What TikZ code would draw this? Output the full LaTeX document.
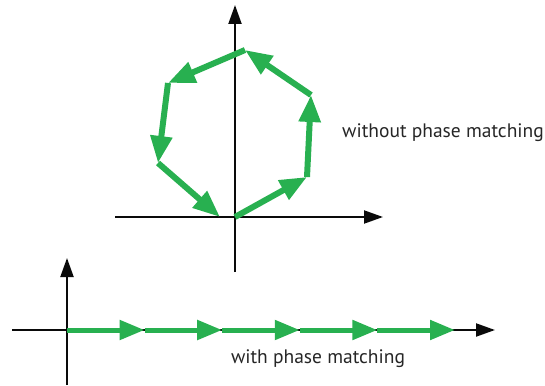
\documentclass[tikz,border=0pt]{standalone}
\usepackage{fontspec}
\setmainfont{PT Sans}
\usetikzlibrary{arrows.meta}
\definecolor{phasegreen}{RGB}{40, 176, 80}
\definecolor{axisblack}{RGB}{10, 10, 10}

\begin{document}
\begin{tikzpicture}[x=1pt, y=-1pt,
  axis/.style={axisblack, line width=2, -{Triangle[length=19pt, width=13pt]}},
  phasor/.style={phasegreen, line width=6, -{Triangle[length=27pt, width=21pt]}},
  flatphasor/.style={phasegreen, line width=5, -{Triangle[length=25pt, width=19pt]}},
  caption/.style={text=black!85, font=\fontsize{19.5}{23}\selectfont, inner sep=0}]
  \useasboundingbox (0, 0) rectangle (545, 385);

  % upper picture: phasors turning round
  \coordinate (o) at (235, 217);
  \coordinate (p1) at (307, 177);
  \coordinate (p2) at (311, 95);
  \coordinate (p3) at (245, 50);
  \coordinate (p4) at (168, 83);
  \coordinate (p5) at (158, 163);
  \coordinate (p6) at (220, 217);

  \draw[axis] (115, 217) -- (383, 217);
  \draw[axis] (235, 272) -- (235, 5);

  \foreach \a/\b in {o/p1, p1/p2, p2/p3, p3/p4, p4/p5, p5/p6} {
    \draw[phasor] (\a) -- (\b);
  }

  \node[caption] (without) at (443, 133) {without phase matching};

  % lower picture: phasors in a row
  \coordinate (q0) at (67, 330);

  \draw[axis] (12, 330) -- (495, 330);
  \draw[axis] (67, 385) -- (67, 258);

  \pgfmathsetmacro{\seg}{77.6}
  \foreach \i in {0, 1, 2, 3, 4} {
    \pgfmathsetmacro{\xs}{67 + \i * \seg}
    \pgfmathsetmacro{\xe}{67 + (\i + 1) * \seg}
    \draw[flatphasor] (\xs, 330) -- (\xe, 330);
  }

  \node[caption] (with) at (318, 359) {with phase matching};

\end{tikzpicture}
\end{document}
